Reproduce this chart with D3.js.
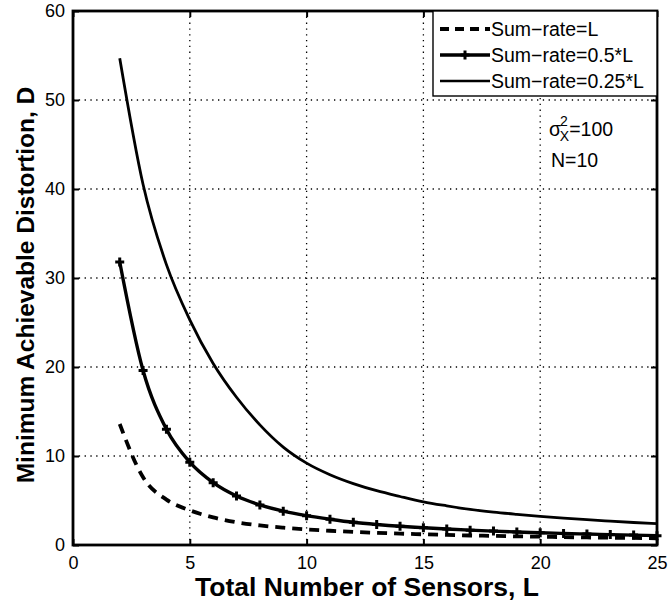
<!DOCTYPE html>
<html>
<head>
<meta charset="utf-8">
<script src="https://cdn.jsdelivr.net/npm/d3@7"></script>
<style>
  html, body { margin: 0; padding: 0; background: #fff; }
  svg { display: block; font-family: "Liberation Sans", Arial, Helvetica, sans-serif; }
</style>
</head>
<body>
<svg id="chart" width="669" height="602"></svg>
<script>
// Number of sensors L
const sensors = [2,3,4,5,6,7,8,9,10,11,12,13,14,15,16,17,18,19,20,21,22,23,24,25];
// Minimum achievable distortion D for each sum-rate rule
const rateFull    = [13.6,7.6,5.1,3.9,3.1,2.55,2.2,1.95,1.75,1.6,1.47,1.37,1.28,1.2,1.13,1.07,1.02,0.97,0.93,0.89,0.85,0.82,0.79,0.76];
const rateHalf    = [31.8,19.6,13.0,9.3,7.0,5.5,4.5,3.8,3.3,2.9,2.55,2.3,2.1,1.95,1.8,1.67,1.56,1.46,1.38,1.3,1.23,1.17,1.11,1.05];
const rateQuarter = [54.7,40.5,31.5,25.3,20.4,16.6,13.5,11.0,9.2,7.9,6.9,6.1,5.45,4.85,4.4,4.0,3.7,3.45,3.22,3.02,2.84,2.68,2.53,2.4];
const xTicks = [0,5,10,15,20,25];
const yTicks = [0,10,20,30,40,50,60];
const seriesNames = ["Sum\u2212rate=L", "Sum\u2212rate=0.5*L", "Sum\u2212rate=0.25*L"];

const svg = d3.select("#chart");
const m = {left: 73, right: 657, top: 11, bottom: 545};
const x = d3.scaleLinear().domain([0, 25]).range([m.left, m.right]);
const y = d3.scaleLinear().domain([0, 60]).range([m.bottom, m.top]);

// dotted grid
const grid = svg.append("g").attr("stroke", "#000").attr("stroke-width", 1.3)
  .attr("stroke-dasharray", "1.3,4.5");
xTicks.slice(1, -1).forEach(t => grid.append("line")
  .attr("x1", x(t)).attr("x2", x(t)).attr("y1", m.top).attr("y2", m.bottom));
yTicks.slice(1, -1).forEach(t => grid.append("line")
  .attr("x1", m.left).attr("x2", m.right).attr("y1", y(t)).attr("y2", y(t)));

// axes with inward ticks on all four sides
const tickLen = 6;
svg.append("g").attr("transform", `translate(0,${m.bottom})`)
  .call(d3.axisBottom(x).tickValues(xTicks).tickSizeInner(-tickLen).tickSizeOuter(0).tickPadding(11))
  .call(g => g.select(".domain").remove());
svg.append("g").attr("transform", `translate(0,${m.top})`)
  .call(d3.axisTop(x).tickValues(xTicks).tickSizeInner(-tickLen).tickSizeOuter(0).tickFormat(""))
  .call(g => g.select(".domain").remove());
svg.append("g").attr("transform", `translate(${m.left},0)`)
  .call(d3.axisLeft(y).tickValues(yTicks).tickSizeInner(-tickLen).tickSizeOuter(0).tickPadding(8))
  .call(g => g.select(".domain").remove());
svg.append("g").attr("transform", `translate(${m.right},0)`)
  .call(d3.axisRight(y).tickValues(yTicks).tickSizeInner(-tickLen).tickSizeOuter(0).tickFormat(""))
  .call(g => g.select(".domain").remove());
svg.selectAll(".tick line").attr("stroke", "#000").attr("stroke-width", 2);
svg.selectAll(".tick text").attr("font-size", 18).attr("fill", "#000")
  .attr("font-family", "Liberation Sans, Arial, sans-serif");

// curves
const line = d3.line().x((d, i) => x(sensors[i])).y(d => y(d)).curve(d3.curveMonotoneX);
svg.append("path").datum(rateQuarter).attr("d", line)
  .attr("fill", "none").attr("stroke", "#000").attr("stroke-width", 2.8);
svg.append("path").datum(rateHalf).attr("d", line)
  .attr("fill", "none").attr("stroke", "#000").attr("stroke-width", 3.4);
svg.append("path").datum(rateFull).attr("d", line)
  .attr("fill", "none").attr("stroke", "#000").attr("stroke-width", 3.8)
  .attr("stroke-dasharray", "10,7");

// plus markers on the 0.5*L curve
const plus = (g, cx, cy) => g.append("path")
  .attr("d", `M${cx - 4.5},${cy}H${cx + 4.5}M${cx},${cy - 4.5}V${cy + 4.5}`)
  .attr("stroke", "#000").attr("stroke-width", 3);
const marks = svg.append("g");
rateHalf.forEach((v, i) => plus(marks, x(sensors[i]), y(v)));

// frame
svg.append("rect").attr("x", m.left).attr("y", m.top)
  .attr("width", m.right - m.left).attr("height", m.bottom - m.top)
  .attr("fill", "none").attr("stroke", "#000").attr("stroke-width", 2.8);

// legend
const lg = svg.append("g");
lg.append("rect").attr("x", 433).attr("y", m.top).attr("width", m.right - 433).attr("height", 85)
  .attr("fill", "#fff").attr("stroke", "#000").attr("stroke-width", 1.4);
const rows = [29, 55, 81];
const styles = [
  {w: 3.8, dash: "9,6", marker: false},
  {w: 3.4, dash: null, marker: true},
  {w: 2.6, dash: null, marker: false}
];
rows.forEach((ry, i) => {
  const s = styles[i];
  const l = lg.append("line").attr("x1", 440).attr("x2", 490).attr("y1", ry).attr("y2", ry)
    .attr("stroke", "#000").attr("stroke-width", s.w);
  if (s.dash) l.attr("stroke-dasharray", s.dash);
  if (s.marker) plus(lg, 465, ry);
  lg.append("text").attr("x", 491).attr("y", ry + 7).attr("font-size", 19.5)
    .text(seriesNames[i]);
});

// parameter annotation
const ann = svg.append("text").attr("x", 549).attr("y", 136).attr("font-size", 19.5);
ann.append("tspan").text("\u03c3");
ann.append("tspan").attr("font-size", 14).attr("dx", -1).attr("dy", -10).text("2");
ann.append("tspan").attr("font-size", 14).attr("dx", -8).attr("dy", 15).text("X");
ann.append("tspan").attr("dy", -5).text("=100");
svg.append("text").attr("x", 551).attr("y", 167).attr("font-size", 19.5).text("N=10");

// axis titles
svg.append("text").attr("x", 367).attr("y", 596)
  .attr("text-anchor", "middle").attr("font-size", 26.5).attr("font-weight", "bold")
  .text("Total Number of Sensors, L");
svg.append("text")
  .attr("transform", `translate(34,${(m.top + m.bottom) / 2 + 7}) rotate(-90)`)
  .attr("text-anchor", "middle").attr("font-size", 24.5).attr("font-weight", "bold")
  .text("Minimum Achievable Distortion, D");
</script>
</body>
</html>
